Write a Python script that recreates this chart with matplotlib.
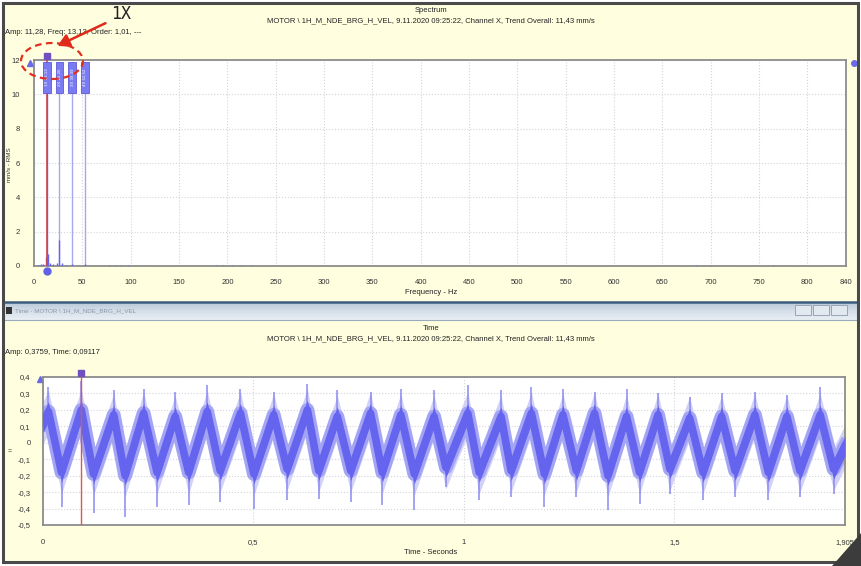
import matplotlib.pyplot as plt
import matplotlib.patches as mpatches
from matplotlib.colors import LinearSegmentedColormap
import numpy as np

plt.rcParams['font.family'] = ['Liberation Sans', 'DejaVu Sans']

W, H = 862, 566

# ---- spectrum data ----
spec_freq = [4, 7, 9.5, 11.9, 13.13, 14.3, 17, 20, 24, 26.3, 28.5, 33, 39.4, 52.5,
             78, 84, 90, 97, 188, 196, 205, 214, 226, 685, 700, 764]
spec_amp = [0.08, 0.12, 0.1, 0.5, 11.28, 0.7, 0.15, 0.1, 0.2, 1.5, 0.2, 0.08, 0.1, 0.1,
            0.06, 0.08, 0.05, 0.06, 0.05, 0.06, 0.07, 0.05, 0.06, 0.05, 0.04, 0.06]
harm_freq = [13.13, 26.26, 39.39, 52.52]
harm_labels = ['1X', '2X', '3X', '4X']
spec_xticks = [0, 50, 100, 150, 200, 250, 300, 350, 400, 450, 500, 550, 600, 650, 700, 750, 800, 840]
spec_yticks = [0, 2, 4, 6, 8, 10, 12]

# ---- time waveform data: per cycle peak / trough (band centre and spike tips) ----
peak_t = [0.013, 0.091, 0.168, 0.239, 0.314, 0.390, 0.469, 0.548, 0.628, 0.699, 0.778, 0.850, 0.929,
          1.009, 1.088, 1.160, 1.235, 1.310, 1.386, 1.461, 1.536, 1.612, 1.691, 1.767, 1.846]
peak_v = [0.19, 0.20, 0.17, 0.18, 0.16, 0.19, 0.18, 0.17, 0.20, 0.16, 0.18, 0.17, 0.16,
          0.18, 0.16, 0.18, 0.17, 0.18, 0.16, 0.17, 0.15, 0.16, 0.17, 0.16, 0.17]
peak_tip = [0.34, 0.3759, 0.32, 0.33, 0.31, 0.35, 0.33, 0.31, 0.36, 0.32, 0.31, 0.33, 0.32,
            0.35, 0.32, 0.34, 0.33, 0.31, 0.33, 0.30, 0.28, 0.30, 0.31, 0.29, 0.34]
trough_t = [0.044, 0.120, 0.195, 0.271, 0.346, 0.421, 0.501, 0.580, 0.655, 0.731, 0.806, 0.882,
            0.957, 1.036, 1.112, 1.191, 1.267, 1.342, 1.417, 1.489, 1.568, 1.644, 1.723, 1.798, 1.878]
trough_v = [-0.18, -0.19, -0.20, -0.18, -0.18, -0.17, -0.19, -0.16, -0.17, -0.17, -0.18, -0.19,
            -0.15, -0.18, -0.17, -0.19, -0.17, -0.20, -0.18, -0.16, -0.18, -0.17, -0.18, -0.17, -0.16]
trough_tip = [-0.39, -0.43, -0.45, -0.39, -0.38, -0.36, -0.40, -0.35, -0.34, -0.36, -0.38, -0.41,
              -0.27, -0.35, -0.33, -0.39, -0.33, -0.41, -0.37, -0.31, -0.35, -0.33, -0.35, -0.33, -0.31]
start_v, end_v = 0.12, -0.02
t_end = 1.905
time_xticks = [0, 0.5, 1, 1.5, 1.905]
time_xlabels = ['0', '0,5', '1', '1,5', '1,905']
time_yticks = [0.4, 0.3, 0.2, 0.1, 0, -0.1, -0.2, -0.3, -0.4, -0.5]
cursor_t, cursor_amp = 0.09117, 0.3759

title_line = 'MOTOR \\ 1H_M_NDE_BRG_H_VEL, 9.11.2020 09:25:22, Channel X, Trend Overall: 11,43 mm/s'

YEL = '#ffffe0'
BLUE = '#6464ee'
GRID = '#d4d4dc'


def fx(x):
    return x / W


def fy(y):
    return 1 - y / H


fig = plt.figure(figsize=(W / 100, H / 100), dpi=100)
fig.patch.set_facecolor('white')

# panel background + frame
fig.patches.append(mpatches.Rectangle((fx(3), fy(562)), fx(855), 559 / H, transform=fig.transFigure,
                                      facecolor=YEL, edgecolor='none', zorder=-10))
fig.patches.append(mpatches.Rectangle((fx(3), fy(562)), fx(855), 559 / H, transform=fig.transFigure,
                                      facecolor='none', edgecolor='#4a4a4a', lw=2.2, zorder=9))

# window title bar between the panels
bar_cmap = LinearSegmentedColormap.from_list('bar', ['#bccbd9', '#d6e0ea', '#e8eef4'])
bar = fig.add_axes([fx(4), fy(320), fx(853), 17 / H])
bar.imshow(np.linspace(0, 1, 20).reshape(-1, 1), aspect='auto', cmap=bar_cmap, extent=[0, 1, 0, 1])
bar.set_axis_off()
fig.add_artist(plt.Line2D([fx(4), fx(857)], [fy(302), fy(302)], color='#3a5d80', lw=1.8))
fig.add_artist(plt.Line2D([fx(4), fx(857)], [fy(320), fy(320)], color='#9aaabb', lw=0.8))
fig.patches.append(mpatches.Rectangle((fx(6), fy(314)), 6 / W, 7 / H, transform=fig.transFigure,
                                      facecolor='#333333', edgecolor='none', zorder=5))
fig.text(fx(15), fy(311), 'Time - MOTOR \\ 1H_M_NDE_BRG_H_VEL', fontsize=4.5, color='#8a98a8', va='center')
for bx in [795, 813, 831]:
    fig.patches.append(mpatches.Rectangle((fx(bx), fy(315)), 16 / W, 10 / H, transform=fig.transFigure,
                                          facecolor='#e2e8ef', edgecolor='#98a6b6', lw=0.7, zorder=5))

# ---------------- spectrum ----------------
ax1 = fig.add_axes([fx(34), fy(266), fx(812), 206 / H])
ax1.set_facecolor('white')
ax1.set_xlim(0, 840)
ax1.set_ylim(0, 12)
ax1.vlines(spec_freq, 0, spec_amp, color=BLUE, lw=1.0, zorder=3)
ax1.vlines(harm_freq[1:], 0, 10.1, color='#a8a8f2', lw=1.0, zorder=2)
ax1.vlines(harm_freq[0], 0, 12, color='#d04848', lw=1.2, zorder=4)
for f, lbl in zip(harm_freq, harm_labels):
    ax1.add_patch(mpatches.Rectangle((f - 4, 10.1), 8, 1.8, facecolor='#7a7af2', edgecolor='#5a5ad8',
                                     lw=0.6, zorder=5))
    ax1.text(f, 11.0, lbl + ' ' + str(f).replace('.', ','), rotation=90, fontsize=3.2, color='white',
             ha='center', va='center', zorder=6)
ax1.plot([harm_freq[0]], [12.25], 's', color='#7050c0', ms=5, clip_on=False, zorder=7)
ax1.plot([harm_freq[0]], [-0.3], 'o', color='#6060e8', ms=5, clip_on=False, zorder=7)
ax1.plot([-4], [11.8], '^', color='#6a6ae8', ms=5, clip_on=False)
ax1.plot([848], [11.8], 'o', color='#6a6ae8', ms=4, clip_on=False)
ax1.set_xticks(spec_xticks)
ax1.set_yticks(spec_yticks)
ax1.set_yticklabels([str(v) for v in spec_yticks])
ax1.tick_params(length=0, labelsize=5.5, colors='#333333')
ax1.tick_params(axis='x', pad=9)
ax1.tick_params(axis='y', pad=10)
ax1.grid(True, color=GRID, ls=':', lw=0.8)
ax1.set_axisbelow(True)
for s in ax1.spines.values():
    s.set_color('#8c8c8c')
    s.set_linewidth(1.3)

fig.text(0.5, fy(10), 'Spectrum', fontsize=5.5, ha='center', va='center', color='#222222')
fig.text(0.5, fy(21), title_line, fontsize=5.5, ha='center', va='center', color='#222222')
fig.text(fx(5), fy(33), 'Amp: 11,28, Freq: 13,13, Order: 1,01, ---', fontsize=5.5, va='center', color='#222222')
fig.text(0.5, fy(293), 'Frequency - Hz', fontsize=5.5, ha='center', va='center', color='#222222')
fig.text(fx(10), fy(165), 'mm/s - RMS', fontsize=4.5, rotation=90, ha='center', va='center', color='#333333')

# 1X callout
fig.text(fx(121), fy(14), '1X', fontsize=12, family='DejaVu Sans Mono', ha='center', va='center', color='#222222')
fig.add_artist(mpatches.FancyArrowPatch((fx(108), fy(22)), (fx(55), fy(47)), transform=fig.transFigure,
                                        arrowstyle='-|>,head_width=4,head_length=7', color='#e02a1a', lw=1.8,
                                        zorder=8))
fig.patches.append(mpatches.Ellipse((fx(52), fy(61)), 62 / W, 36 / H, transform=fig.transFigure,
                                    facecolor='none', edgecolor='#e03020', lw=1.6, ls=(0, (3, 2)), zorder=8))

# ---------------- time waveform ----------------
ax2 = fig.add_axes([fx(43), fy(525), fx(802), 148 / H])
ax2.set_facecolor('white')
ax2.set_xlim(0, t_end)
ax2.set_ylim(-0.5, 0.4)

wave_t = [0.0]
wave_v = [start_v]
for i in range(len(peak_t)):
    wave_t += [peak_t[i], trough_t[i]]
    wave_v += [peak_v[i], trough_v[i]]
wave_t.append(t_end)
wave_v.append(end_v)
wave_t = np.array(wave_t)
wave_v = np.array(wave_v)

# light fuzz around the dense core
ax2.fill_between(wave_t, wave_v - 0.13, wave_v + 0.13, color='#d2d2f8', lw=0, zorder=2)
ax2.plot(wave_t, wave_v, color='#a4a4f4', lw=10, solid_joinstyle='round', zorder=2)
ax2.vlines(peak_t, peak_v, peak_tip, color='#8a8af2', lw=1.1, zorder=3)
ax2.vlines(trough_t, trough_tip, trough_v, color='#8a8af2', lw=1.1, zorder=3)
ax2.fill_between(wave_t, wave_v - 0.06, wave_v + 0.06, color=BLUE, lw=0, zorder=3)
ax2.plot(wave_t, wave_v, color=BLUE, lw=5.5, solid_joinstyle='round', zorder=3)
ax2.axvline(cursor_t, color='#d9584f', lw=1.0, zorder=4)
ax2.plot([cursor_t], [0.425], 's', color='#7050c0', ms=5, clip_on=False, zorder=7)
ax2.plot([-0.008], [0.39], '^', color='#6a6ae8', ms=5, clip_on=False)

ax2.set_xticks(time_xticks)
ax2.set_xticklabels(time_xlabels)
ax2.set_yticks(time_yticks)
ax2.set_yticklabels([('%g' % v).replace('.', ',') for v in time_yticks])
ax2.tick_params(length=0, labelsize=5.5, colors='#333333')
ax2.tick_params(axis='x', pad=10)
ax2.tick_params(axis='y', pad=9)
ax2.grid(True, color=GRID, ls=':', lw=0.8)
ax2.set_axisbelow(True)
for s in ax2.spines.values():
    s.set_color('#8c8c8c')
    s.set_linewidth(1.3)

fig.text(0.5, fy(328), 'Time', fontsize=5.5, ha='center', va='center', color='#222222')
fig.text(0.5, fy(339), title_line, fontsize=5.5, ha='center', va='center', color='#222222')
fig.text(fx(5), fy(352), 'Amp: 0,3759, Time: 0,09117', fontsize=5.5, va='center', color='#222222')
fig.text(0.5, fy(553), 'Time - Seconds', fontsize=5.5, ha='center', va='center', color='#222222')
fig.text(fx(10), fy(452), '=', fontsize=5, ha='center', va='center', color='#333333')

# dark page corner
fig.patches.append(mpatches.Polygon([(fx(832), fy(566)), (fx(862), fy(532)), (fx(862), fy(566))],
                                    closed=True, transform=fig.transFigure, facecolor='#3c3c3c',
                                    edgecolor='none', zorder=10))

fig.savefig('out.png', dpi=100, facecolor=fig.get_facecolor())
